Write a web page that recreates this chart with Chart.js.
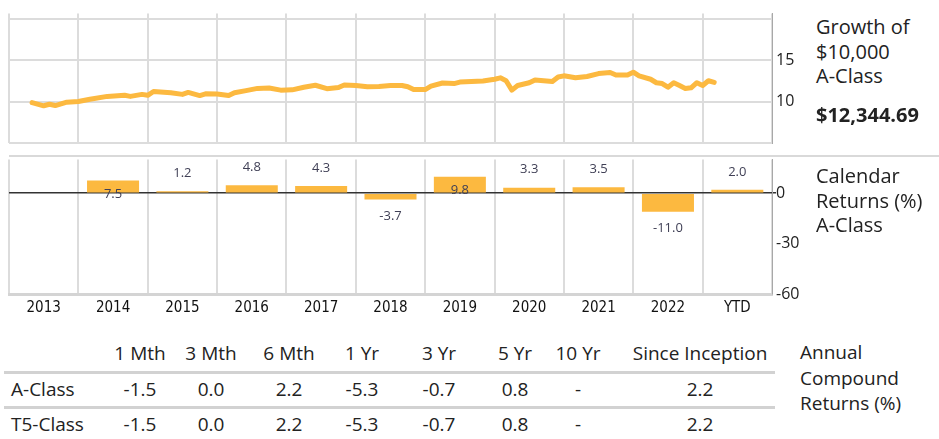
<!DOCTYPE html>
<html>
<head>
<meta charset="utf-8">
<script src="https://cdn.jsdelivr.net/npm/chart.js@4.4.1/dist/chart.umd.min.js"></script>
<style>
  body { margin: 0; background: #fff; font-family: 'Open Sans', sans-serif; color: #222; }
  #page { position: relative; width: 939px; height: 439px; overflow: hidden; }
  canvas { position: absolute; left: 0; }
  #growthChart { top: 0; }
  #returnsChart { top: 150px; }
  .sep { position: absolute; background: #d9d9d9; }
  .side { position: absolute; font-size: 20px; line-height: 24.5px; }
  .cell { position: absolute; font-size: 19px; transform: translateX(-50%); white-space: nowrap; line-height: 26px; }
  .rowname { position: absolute; left: 11px; font-size: 19px; line-height: 26px; }
</style>
</head>
<body>
<div id="page">
  <canvas id="growthChart" width="810" height="157"></canvas>
  <canvas id="returnsChart" width="810" height="170"></canvas>
  <div class="sep" style="left:9px; top:155px; width:930px; height:2px;"></div>

  <div class="side" style="left:816px; top:15px;">Growth of<br>$10,000<br>A-Class</div>
  <div class="side" style="left:816px; top:103px; font-weight:bold;">$12,344.69</div>
  <div class="side" style="left:816px; top:164px;">Calendar<br>Returns (%)<br>A-Class</div>
  <div class="side" style="left:800px; top:340px; font-size:19px; line-height:25.5px;">Annual<br>Compound<br>Returns (%)</div>

  <div id="table"></div>
</div>

<script>
// ===== DATA =====
// growth of $10,000 (in $ thousands), x = months since Jan 2013
const growthMonths = [4, 6, 7, 8, 10, 12, 14, 17, 20, 21, 23, 24, 25, 28, 30, 31, 33, 34, 36, 38,
    39, 41, 43, 45, 47, 49, 51, 53, 55, 57, 58, 60, 62, 64, 66, 68, 69, 70, 72, 73,
    75, 77, 78, 80, 82, 84, 85, 86, 87, 88, 90, 91, 94, 95, 96, 98, 100, 102, 104, 105,
    107, 108, 109, 111, 112, 113, 114, 115, 116, 117, 118, 119, 120, 121, 122];
const growthValues = [9.90, 9.52, 9.70, 9.55, 9.96, 10.03, 10.31, 10.65, 10.78, 10.65, 10.89, 10.78, 11.24, 11.09, 10.89, 11.13, 10.75, 10.96, 10.93, 10.75,
    11.09, 11.34, 11.61, 11.65, 11.40, 11.44, 11.75, 11.99, 11.58, 11.71, 12.02, 11.96, 11.81, 11.85, 11.96, 11.96, 11.81, 11.47, 11.47, 11.88,
    12.26, 12.19, 12.37, 12.43, 12.50, 12.71, 12.88, 12.53, 11.40, 11.96, 12.29, 12.63, 12.43, 12.98, 13.12, 12.88, 13.04, 13.39, 13.53, 13.22,
    13.22, 13.56, 13.12, 12.71, 12.29, 12.19, 11.75, 12.29, 11.96, 11.61, 11.68, 12.29, 11.96, 12.53, 12.34];
const growthTicks = [5, 10, 15, 20];
const growthLabelled = [10, 15];

// calendar returns (%)
const years = ['2013', '2014', '2015', '2016', '2017', '2018', '2019', '2020', '2021', '2022', 'YTD'];
const calendarReturns = [null, 7.5, 1.2, 4.8, 4.3, -3.7, 9.8, 3.3, 3.5, -11.0, 2.0];
const returnTicks = [-60, -30, 0];

// annual compound returns table
const periods = ['1 Mth', '3 Mth', '6 Mth', '1 Yr', '3 Yr', '5 Yr', '10 Yr', 'Since Inception'];
const classNames = ['A-Class', 'T5-Class'];
const aClassReturns = ['-1.5', '0.0', '2.2', '-5.3', '-0.7', '0.8', '-', '2.2'];
const t5ClassReturns = ['-1.5', '0.0', '2.2', '-5.3', '-0.7', '0.8', '-', '2.2'];

// ===== STYLE =====
const ORANGE = '#fcb940';
const GRID = '#dcdcdc';
const AXIS = '#a8a8a8';
const tickFont = { family: "'Open Sans', sans-serif", size: 16 };
const yearFont = { family: "'Liberation Sans Narrow', 'DejaVu Sans Condensed', sans-serif", size: 15 };

// ===== GROWTH LINE CHART =====
new Chart(document.getElementById('growthChart'), {
    type: 'line',
    data: {
        datasets: [{
            data: growthMonths.map((m, i) => ({ x: m, y: growthValues[i] })),
            borderColor: ORANGE,
            borderWidth: 5,
            borderJoinStyle: 'round',
            borderCapStyle: 'round',
            pointRadius: 0,
            tension: 0
        }]
    },
    options: {
        responsive: false,
        animation: false,
        devicePixelRatio: 1,
        layout: { padding: { top: 3, left: 9, right: 0, bottom: 2 } },
        plugins: { legend: { display: false }, tooltip: { enabled: false } },
        scales: {
            x: {
                type: 'linear',
                min: 0,
                max: 132,
                ticks: { display: false, stepSize: 12 },
                grid: { color: GRID, lineWidth: 2, drawTicks: false },
                border: { display: false },
                afterFit: scale => { scale.height = 0; }
            },
            y: {
                position: 'right',
                min: 5,
                max: 20.6,
                afterBuildTicks: scale => { scale.ticks = growthTicks.map(v => ({ value: v })); },
                ticks: {
                    padding: 4,
                    color: '#222',
                    font: tickFont,
                    callback: v => growthLabelled.includes(v) ? String(v) : ''
                },
                grid: { color: GRID, lineWidth: 2, drawTicks: false },
                border: { color: AXIS, width: 1 },
                afterFit: scale => { scale.width = 38; }
            }
        }
    }
});

// ===== CALENDAR RETURNS BAR CHART =====
const barLabels = {
    id: 'barLabels',
    afterDatasetsDraw(chart) {
        const ctx = chart.ctx;
        const area = chart.chartArea;
        ctx.save();
        ctx.font = "13px 'Open Sans', sans-serif";
        ctx.fillStyle = '#3f3f55';
        ctx.textAlign = 'center';
        ctx.textBaseline = 'middle';
        chart.getDatasetMeta(0).data.forEach((bar, i) => {
            const v = calendarReturns[i];
            if (v === null) return;
            let y;
            if (v >= 0) {
                y = bar.y - 18;
                if (y - 7 < area.top) y = bar.y + 14;   // no room above: put it inside
            } else {
                y = bar.y + 17;
            }
            ctx.fillText(v.toFixed(1), bar.x, y);
        });
        ctx.restore();
    }
};

new Chart(document.getElementById('returnsChart'), {
    type: 'bar',
    data: {
        labels: years,
        datasets: [{
            data: calendarReturns,
            backgroundColor: ORANGE,
            barPercentage: 0.75,
            categoryPercentage: 1
        }]
    },
    options: {
        responsive: false,
        animation: false,
        devicePixelRatio: 1,
        layout: { padding: { top: 7, left: 9, right: 0, bottom: 0 } },
        plugins: { legend: { display: false }, tooltip: { enabled: false } },
        scales: {
            x: {
                grid: { color: GRID, lineWidth: 2, drawTicks: false, offset: true },
                border: { color: '#d4d4d4', width: 3 },
                ticks: { padding: 5, color: '#111', font: yearFont, maxRotation: 0 },
                afterFit: scale => { scale.height = 26; }
            },
            y: {
                position: 'right',
                min: -60,
                max: 20,
                afterBuildTicks: scale => { scale.ticks = returnTicks.map(v => ({ value: v })); },
                ticks: { padding: 0, color: '#222', font: tickFont },
                grid: {
                    color: ctx => (ctx.tick && ctx.tick.value === 0) ? '#333' : 'rgba(0,0,0,0)',
                    lineWidth: 1.5,
                    tickLength: 4
                },
                border: { color: AXIS, width: 1 },
                afterFit: scale => { scale.width = 38; }
            }
        }
    },
    plugins: [barLabels]
});

// ===== TABLE =====
const colCenters = [140, 211, 289, 362, 439, 515, 578, 700];
const rowTops = [340, 376, 411];
const lineTops = [371, 406];

function buildTable() {
    const table = document.getElementById('table');
    let html = '';
    periods.forEach((p, i) => {
        html += `<div class="cell" style="left:${colCenters[i]}px; top:${rowTops[0]}px;">${p}</div>`;
    });
    [aClassReturns, t5ClassReturns].forEach((row, r) => {
        html += `<div class="rowname" style="top:${rowTops[r + 1]}px;">${classNames[r]}</div>`;
        row.forEach((v, i) => {
            html += `<div class="cell" style="left:${colCenters[i]}px; top:${rowTops[r + 1]}px;">${v}</div>`;
        });
    });
    lineTops.forEach(t => {
        html += `<div class="sep" style="left:4px; top:${t}px; width:771px; height:3px; background:#d2d2d2;"></div>`;
    });
    table.innerHTML = html;
}
buildTable();
</script>
</body>
</html>
